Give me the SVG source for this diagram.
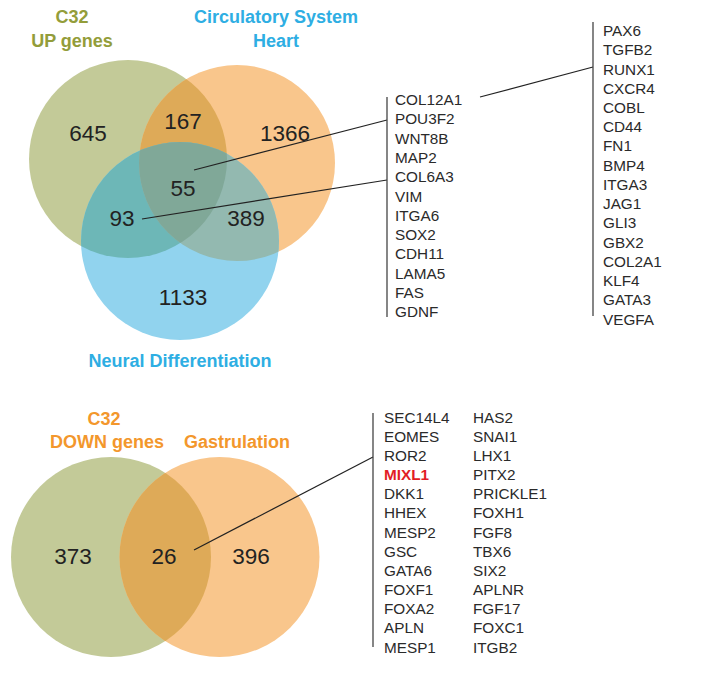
<svg xmlns="http://www.w3.org/2000/svg" width="708" height="675" viewBox="0 0 708 675">
<style>
.title{font-family:"Liberation Sans",Arial,sans-serif;font-weight:bold;font-size:18px;text-anchor:middle}
.num{font-family:"Liberation Sans",Arial,sans-serif;font-size:22.5px;fill:#222;text-anchor:middle}
.gene{font-family:"Liberation Sans",Arial,sans-serif;font-size:15.3px;fill:#2a2a2a}
.hl{fill:#e21d25;font-weight:bold}
.ln{stroke:#222;stroke-width:1.2;fill:none}
.bar{stroke:#444;stroke-width:1.3;fill:none}
</style>
<defs>
<clipPath id="cG"><circle cx="128" cy="159" r="99"/></clipPath>
<clipPath id="cO"><circle cx="237" cy="163" r="98"/></clipPath>
<clipPath id="cG2"><circle cx="111" cy="557" r="100"/></clipPath>
</defs>
<rect width="708" height="675" fill="#fff"/>

<g id="venn-up">
<circle cx="128" cy="159" r="99" fill="#c3ca98"/>
<circle cx="237" cy="163" r="98" fill="#f9c68c"/>
<circle cx="180" cy="241" r="99" fill="#91d3ee"/>
<circle cx="237" cy="163" r="98" fill="#deaa58" clip-path="url(#cG)"/>
<circle cx="180" cy="241" r="99" fill="#6db7b7" clip-path="url(#cG)"/>
<circle cx="180" cy="241" r="99" fill="#93b9b0" clip-path="url(#cO)"/>
<g clip-path="url(#cG)"><circle cx="180" cy="241" r="99" fill="#80a898" clip-path="url(#cO)"/></g>
</g>

<g id="labels-up">
<text class="title" x="72" y="23" fill="#939d3a">C32</text>
<text class="title" x="72" y="47" fill="#939d3a">UP genes</text>
<text class="title" x="276" y="23" fill="#2eaee3">Circulatory System</text>
<text class="title" x="276" y="47" fill="#2eaee3">Heart</text>
<text class="title" x="180" y="367" fill="#2eaee3">Neural Differentiation</text>
</g>

<g id="numbers-up">
<text class="num" x="88" y="141">645</text>
<text class="num" x="183" y="129">167</text>
<text class="num" x="285" y="141">1366</text>
<text class="num" x="183" y="196">55</text>
<text class="num" x="122" y="226">93</text>
<text class="num" x="246" y="226">389</text>
<text class="num" x="183" y="305">1133</text>
</g>

<g id="venn-down">
<circle cx="111" cy="557" r="100" fill="#c3ca98"/>
<circle cx="219.5" cy="557" r="100" fill="#f9c68c"/>
<circle cx="219.5" cy="557" r="100" fill="#deaa58" clip-path="url(#cG2)"/>
<text class="title" x="104" y="425" fill="#f3972c">C32</text>
<text class="title" x="107" y="448" fill="#f3972c">DOWN genes</text>
<text class="title" x="237" y="448" fill="#f3972c">Gastrulation</text>
<text class="num" x="73" y="564">373</text>
<text class="num" x="164" y="564">26</text>
<text class="num" x="251" y="564">396</text>
</g>

<g id="connectors">
<line class="ln" x1="194" y1="170" x2="387" y2="120"/>
<line class="ln" x1="142" y1="219" x2="387" y2="180"/>
<line class="ln" x1="480" y1="97" x2="593" y2="67"/>
<line class="ln" x1="194" y1="550" x2="373" y2="457"/>
<line class="bar" x1="387" y1="97" x2="387" y2="317"/>
<line class="bar" x1="593" y1="22" x2="593" y2="316"/>
<line class="bar" x1="373" y1="413" x2="373" y2="647"/>
</g>

<g id="list-1">
<text class="gene" x="395" y="105">COL12A1</text>
<text class="gene" x="395" y="124.3">POU3F2</text>
<text class="gene" x="395" y="143.6">WNT8B</text>
<text class="gene" x="395" y="162.9">MAP2</text>
<text class="gene" x="395" y="182.2">COL6A3</text>
<text class="gene" x="395" y="201.5">VIM</text>
<text class="gene" x="395" y="220.8">ITGA6</text>
<text class="gene" x="395" y="240.1">SOX2</text>
<text class="gene" x="395" y="259.4">CDH11</text>
<text class="gene" x="395" y="278.7">LAMA5</text>
<text class="gene" x="395" y="298">FAS</text>
<text class="gene" x="395" y="317.3">GDNF</text>
</g>

<g id="list-2">
<text class="gene" x="603" y="36">PAX6</text>
<text class="gene" x="603" y="55.2">TGFB2</text>
<text class="gene" x="603" y="74.5">RUNX1</text>
<text class="gene" x="603" y="93.7">CXCR4</text>
<text class="gene" x="603" y="112.9">COBL</text>
<text class="gene" x="603" y="132.2">CD44</text>
<text class="gene" x="603" y="151.4">FN1</text>
<text class="gene" x="603" y="170.6">BMP4</text>
<text class="gene" x="603" y="189.8">ITGA3</text>
<text class="gene" x="603" y="209.1">JAG1</text>
<text class="gene" x="603" y="228.3">GLI3</text>
<text class="gene" x="603" y="247.5">GBX2</text>
<text class="gene" x="603" y="266.8">COL2A1</text>
<text class="gene" x="603" y="286">KLF4</text>
<text class="gene" x="603" y="305.2">GATA3</text>
<text class="gene" x="603" y="324.5">VEGFA</text>
</g>

<g id="list-3">
<text class="gene" x="384" y="422.5">SEC14L4</text>
<text class="gene" x="384" y="441.7">EOMES</text>
<text class="gene" x="384" y="460.8">ROR2</text>
<text class="gene hl" x="384" y="480">MIXL1</text>
<text class="gene" x="384" y="499.2">DKK1</text>
<text class="gene" x="384" y="518.4">HHEX</text>
<text class="gene" x="384" y="537.5">MESP2</text>
<text class="gene" x="384" y="556.7">GSC</text>
<text class="gene" x="384" y="575.9">GATA6</text>
<text class="gene" x="384" y="595">FOXF1</text>
<text class="gene" x="384" y="614.2">FOXA2</text>
<text class="gene" x="384" y="633.4">APLN</text>
<text class="gene" x="384" y="652.5">MESP1</text>
<text class="gene" x="473" y="422.5">HAS2</text>
<text class="gene" x="473" y="441.7">SNAI1</text>
<text class="gene" x="473" y="460.8">LHX1</text>
<text class="gene" x="473" y="480">PITX2</text>
<text class="gene" x="473" y="499.2">PRICKLE1</text>
<text class="gene" x="473" y="518.4">FOXH1</text>
<text class="gene" x="473" y="537.5">FGF8</text>
<text class="gene" x="473" y="556.7">TBX6</text>
<text class="gene" x="473" y="575.9">SIX2</text>
<text class="gene" x="473" y="595">APLNR</text>
<text class="gene" x="473" y="614.2">FGF17</text>
<text class="gene" x="473" y="633.4">FOXC1</text>
<text class="gene" x="473" y="652.5">ITGB2</text>
</g>
</svg>
